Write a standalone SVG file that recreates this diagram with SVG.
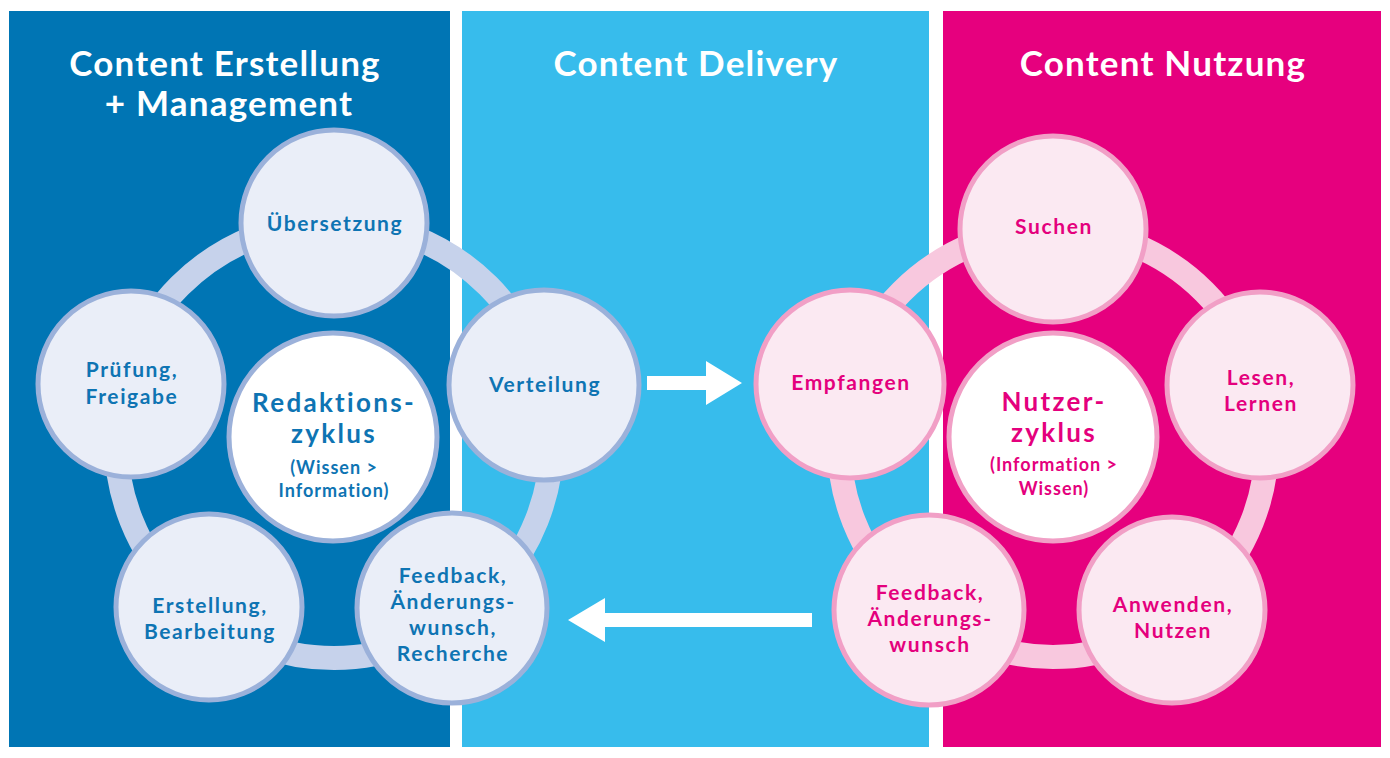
<svg xmlns="http://www.w3.org/2000/svg" width="1390" height="758" viewBox="0 0 1390 758">
<style>
text{font-family:Lato,"Open Sans","Liberation Sans",sans-serif;font-weight:bold;text-anchor:middle}
.title{fill:#fff;font-size:35px;letter-spacing:1.2px}
.bl{fill:#0e74b3;font-size:21px;letter-spacing:1.6px}
.pk{fill:#e4007d;font-size:21px;letter-spacing:1.6px}
.bigb{fill:#0e74b3;font-size:26px;letter-spacing:2.3px}
.bigp{fill:#e4007d;font-size:26px;letter-spacing:2.3px}
.subb{fill:#0e74b3;font-size:18px;letter-spacing:1px}
.subp{fill:#e4007d;font-size:18px;letter-spacing:1px}
.ob{fill:#eaeef8;stroke:#9bb1da;stroke-width:5}
.cb{fill:#fff;stroke:#9bb1da;stroke-width:5}
.op{fill:#fbe9f2;stroke:#f19fc6;stroke-width:5}
.cp{fill:#fff;stroke:#f19fc6;stroke-width:5}
.arrow{fill:#fff}
</style>
<rect width="1390" height="758" fill="#fff"/>
<g id="panels">
<rect x="9" y="11" width="441" height="736" fill="#0075b4"/>
<rect x="462" y="11" width="467" height="736" fill="#37bcec"/>
<rect x="943" y="11" width="438" height="736" fill="#e6007e"/>
</g>
<g id="titles">
<text class="title" x="225" y="76">Content Erstellung</text>
<text class="title" x="229" y="116">+ Management</text>
<text class="title" x="696" y="76">Content Delivery</text>
<text class="title" x="1163" y="76">Content Nutzung</text>
</g>
<g id="connectors">
<circle cx="334" cy="440" r="218" fill="none" stroke="#c6d2eb" stroke-width="24"/>
<circle cx="1053" cy="443" r="214" fill="none" stroke="#f8c8de" stroke-width="24"/>
<polygon class="arrow" points="647,376 706,376 706,361 742,383 706,405 706,390 647,390"/>
<polygon class="arrow" points="812,613 605,613 605,598 568,620 605,642 605,627 812,627"/>
</g>
<g id="node-redaktionszyklus">
<circle class="cb" cx="333" cy="437" r="104"/>
<text class="bigb" x="334" y="412">Redaktions-</text>
<text class="bigb" x="334" y="443">zyklus</text>
<text class="subb" x="334" y="474">(Wissen &gt;</text>
<text class="subb" x="334" y="497">Information)</text>
</g>
<g id="node-uebersetzung">
<circle class="ob" cx="334" cy="223" r="93"/>
<text class="bl" x="335" y="231">Übersetzung</text>
</g>
<g id="node-verteilung">
<circle class="ob" cx="544" cy="385" r="95"/>
<text class="bl" x="545" y="392">Verteilung</text>
</g>
<g id="node-feedback-left">
<circle class="ob" cx="452" cy="608" r="95"/>
<text class="bl" x="453" y="583">Feedback,</text>
<text class="bl" x="453" y="609">Änderungs-</text>
<text class="bl" x="453" y="635">wunsch,</text>
<text class="bl" x="453" y="661">Recherche</text>
</g>
<g id="node-erstellung">
<circle class="ob" cx="209" cy="607" r="93"/>
<text class="bl" x="210" y="613">Erstellung,</text>
<text class="bl" x="210" y="639">Bearbeitung</text>
</g>
<g id="node-pruefung">
<circle class="ob" cx="131" cy="384" r="93"/>
<text class="bl" x="132" y="377">Prüfung,</text>
<text class="bl" x="132" y="404">Freigabe</text>
</g>
<g id="node-nutzerzyklus">
<circle class="cp" cx="1053" cy="437" r="104"/>
<text class="bigp" x="1054" y="411">Nutzer-</text>
<text class="bigp" x="1054" y="442">zyklus</text>
<text class="subp" x="1054" y="471">(Information &gt;</text>
<text class="subp" x="1054" y="495">Wissen)</text>
</g>
<g id="node-suchen">
<circle class="op" cx="1053" cy="229" r="93"/>
<text class="pk" x="1054" y="234">Suchen</text>
</g>
<g id="node-lesen">
<circle class="op" cx="1260" cy="385" r="93"/>
<text class="pk" x="1261" y="385">Lesen,</text>
<text class="pk" x="1261" y="411">Lernen</text>
</g>
<g id="node-anwenden">
<circle class="op" cx="1172" cy="610" r="93"/>
<text class="pk" x="1173" y="612">Anwenden,</text>
<text class="pk" x="1173" y="638">Nutzen</text>
</g>
<g id="node-feedback-right">
<circle class="op" cx="929" cy="610" r="95"/>
<text class="pk" x="930" y="600">Feedback,</text>
<text class="pk" x="930" y="626">Änderungs-</text>
<text class="pk" x="930" y="652">wunsch</text>
</g>
<g id="node-empfangen">
<circle class="op" cx="850" cy="384" r="94"/>
<text class="pk" x="851" y="390">Empfangen</text>
</g>
</svg>
